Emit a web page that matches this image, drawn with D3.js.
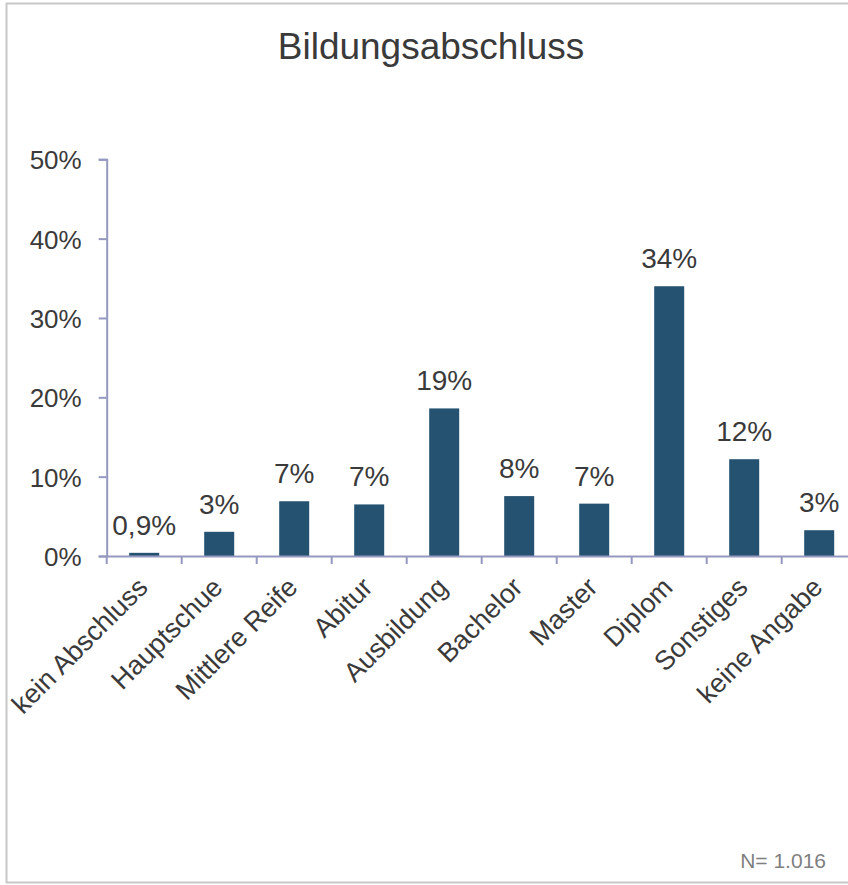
<!DOCTYPE html>
<html>
<head>
<meta charset="utf-8">
<script src="https://cdnjs.cloudflare.com/ajax/libs/d3/7.8.5/d3.min.js"></script>
<style>
  body { margin: 0; background: #fff; }
  svg { display: block; font-family: "Liberation Sans", Arial, sans-serif; }
</style>
</head>
<body>
<div id="chart"></div>
<script>
// data
var categories = ["kein Abschluss", "Hauptschue", "Mittlere Reife", "Abitur", "Ausbildung",
                  "Bachelor", "Master", "Diplom", "Sonstiges", "keine Angabe"];
var values = [0.4, 3.05, 6.9, 6.5, 18.6, 7.55, 6.6, 34.0, 12.2, 3.25];
var valueLabels = ["0,9%", "3%", "7%", "7%", "19%", "8%", "7%", "34%", "12%", "3%"];
var yTicks = [0, 10, 20, 30, 40, 50];

var width = 848, height = 885;
var axisColor = "#9598bf", barColor = "#245270", textColor = "#3a3a3a";

var svg = d3.select("#chart").append("svg")
  .attr("width", width)
  .attr("height", height);

// outer frame (runs off the right edge)
svg.append("rect")
  .attr("x", 6.5).attr("y", 3.5)
  .attr("width", 900).attr("height", 879)
  .attr("fill", "none")
  .attr("stroke", "#c8c8c8")
  .attr("stroke-width", 2);

svg.append("text")
  .attr("x", 431).attr("y", 59)
  .attr("text-anchor", "middle")
  .attr("fill", textColor)
  .style("font-size", "37px")
  .text("Bildungsabschluss");

var x = d3.scaleBand().domain(categories)
  .range([106.7, 856.7])
  .paddingInner(0.6)
  .paddingOuter(0.3);

var y = d3.scaleLinear().domain([0, 50]).range([556, 159.3]);

// y axis
var gy = svg.append("g")
  .attr("transform", "translate(106.7,0)")
  .call(d3.axisLeft(y).tickValues(yTicks).tickFormat(function(d){ return d + "%"; })
        .tickSize(8).tickPadding(17));
gy.select(".domain").attr("stroke", axisColor).attr("stroke-width", 2);
gy.selectAll(".tick line").attr("stroke", axisColor).attr("stroke-width", 2);
gy.selectAll(".tick text").attr("fill", textColor).style("font-size", "26px")
  .attr("font-family", null).attr("dy", "0.36em");

// bars
svg.selectAll(".bar").data(values).enter()
  .append("rect")
  .attr("class", "bar")
  .attr("x", function(d, i){ return x(categories[i]); })
  .attr("y", function(d){ return y(d); })
  .attr("width", x.bandwidth())
  .attr("height", function(d){ return y(0) - y(d); })
  .attr("fill", barColor);

// x axis
var gx = svg.append("g")
  .attr("transform", "translate(0," + y(0) + ")")
  .call(d3.axisBottom(x).tickSize(0).tickSizeOuter(0));
gx.select(".domain").attr("stroke", axisColor).attr("stroke-width", 2);
gx.selectAll(".tick text")
  .attr("fill", textColor)
  .attr("font-family", null)
  .style("font-size", "27px")
  .attr("text-anchor", "end")
  .attr("x", 0).attr("y", 0).attr("dy", null)
  .attr("transform", "translate(5,33) rotate(-45)");

// boundary ticks between categories
var bounds = d3.range(categories.length).map(function(i){ return x.range()[0] + i * x.step(); });
gx.selectAll(".btick").data(bounds).enter()
  .append("line")
  .attr("class", "btick")
  .attr("x1", function(d){ return d; }).attr("x2", function(d){ return d; })
  .attr("y1", 0).attr("y2", 8)
  .attr("stroke", axisColor)
  .attr("stroke-width", 2);

// value labels
svg.selectAll(".vlabel").data(values).enter()
  .append("text")
  .attr("class", "vlabel")
  .attr("x", function(d, i){ return x(categories[i]) + x.bandwidth() / 2; })
  .attr("y", function(d){ return y(d) - 18; })
  .attr("text-anchor", "middle")
  .attr("fill", textColor)
  .style("font-size", "28px")
  .text(function(d, i){ return valueLabels[i]; });

svg.append("text")
  .attr("x", 826).attr("y", 868)
  .attr("text-anchor", "end")
  .attr("fill", "#7f7f7f")
  .style("font-size", "21px")
  .text("N= 1.016");
</script>
</body>
</html>
